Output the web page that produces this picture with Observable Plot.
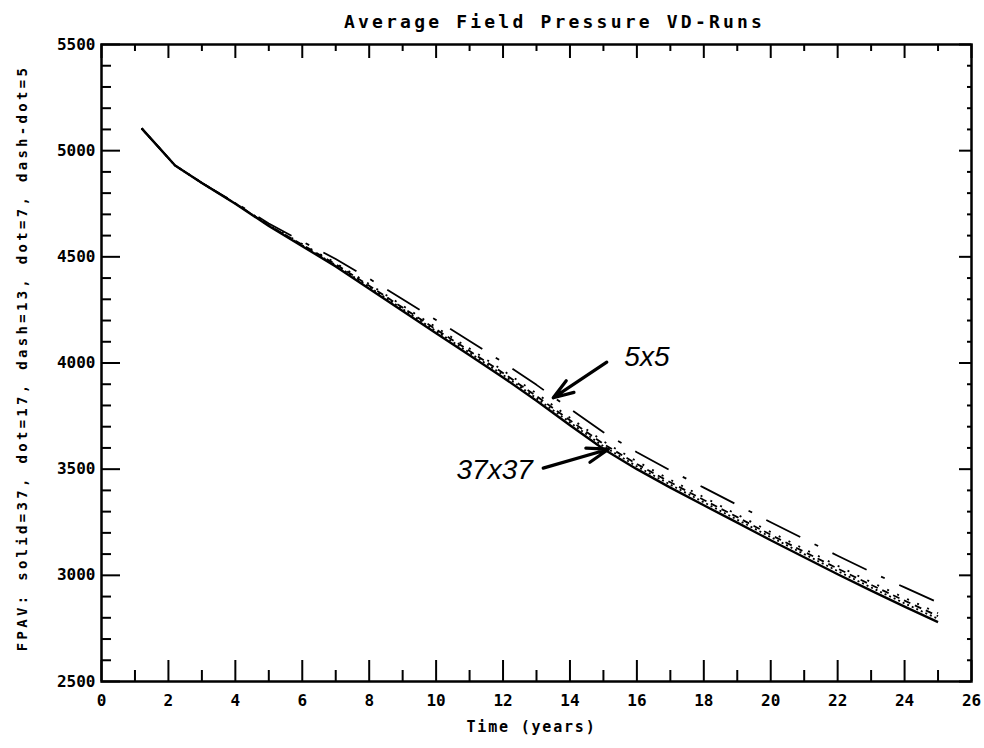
<!DOCTYPE html>
<html>
<head>
<meta charset="utf-8">
<script src="https://cdn.jsdelivr.net/npm/d3@7"></script>
<script src="https://cdn.jsdelivr.net/npm/@observablehq/plot@0.6"></script>
<style>
  body { margin: 0; background: #fff; }
  #chart svg { display: block; }
</style>
</head>
<body>
<div id="chart"></div>
<script>
// Average field pressure (FPAV) for the VD runs, one curve per grid size.
const years = [1.2, 2.2, 3, 4, 5, 6, 7, 8, 9, 10, 11, 12, 13, 14, 15, 16, 17, 18, 19, 20, 21, 22, 23, 24, 25];

const fpav37 = [5105, 4930, 4848, 4750, 4645, 4550, 4455, 4350, 4245, 4140, 4037, 3932, 3822, 3707, 3595, 3500, 3413, 3330, 3248, 3165, 3085, 3005, 2928, 2853, 2780];
const fpav17 = [5105, 4930, 4848, 4751, 4647, 4554, 4461, 4358, 4254, 4150, 4048, 3944, 3834, 3720, 3608, 3513, 3427, 3344, 3262, 3180, 3100, 3020, 2943, 2868, 2795];
const fpav13 = [5105, 4930, 4848, 4751, 4649, 4557, 4465, 4364, 4261, 4158, 4057, 3953, 3844, 3730, 3619, 3524, 3438, 3355, 3274, 3191, 3111, 3032, 2955, 2881, 2808];
const fpav7  = [5105, 4930, 4848, 4752, 4651, 4560, 4471, 4372, 4270, 4168, 4068, 3965, 3857, 3742, 3631, 3537, 3450, 3368, 3286, 3204, 3124, 3045, 2968, 2894, 2822];
const fpav5  = [5105, 4930, 4848, 4755, 4657, 4572, 4490, 4397, 4300, 4202, 4104, 4003, 3897, 3784, 3674, 3580, 3494, 3413, 3332, 3250, 3171, 3092, 3016, 2943, 2872];

const runNames = ["37", "17", "13", "7", "5"];

const xMajor = [0, 2, 4, 6, 8, 10, 12, 14, 16, 18, 20, 22, 24, 26];
const xMinor = [1, 3, 5, 7, 9, 11, 13, 15, 17, 19, 21, 23, 25];
const yMajor = [2500, 3000, 3500, 4000, 4500, 5000, 5500];
const yMinor = [2600, 2700, 2800, 2900, 3100, 3200, 3300, 3400, 3600, 3700, 3800, 3900,
                4100, 4200, 4300, 4400, 4600, 4700, 4800, 4900, 5100, 5200, 5300, 5400];

const titleText = "Average Field Pressure VD-Runs";
const xTitle = "Time (years)";
const yTitle = "FPAV: solid=37, dot=17, dash=13, dot=7, dash-dot=5";

// Hand-written call-outs: label position and arrow (tail -> head) in data units.
const calloutLabels = [
  {text: "5x5",   t: 16.3, p: 4030},
  {text: "37x37", t: 11.75, p: 3497}
];
const calloutArrows = [
  {t1: 15.1, p1: 4004, t2: 13.5, p2: 3836},
  {t1: 13.2, p1: 3505, t2: 15.15, p2: 3594}
];

// Line styling per run
const runStyle = {
  "37": {dash: null,            width: 2.4},
  "17": {dash: "2,3",           width: 1.8},
  "13": {dash: "7,5",           width: 1.8},
  "7":  {dash: "2,9",           width: 1.8},
  "5":  {dash: "38,16,4,16",    width: 1.8}
};

const runValues = {"37": fpav37, "17": fpav17, "13": fpav13, "7": fpav7, "5": fpav5};

const W = 984, H = 748;
const mL = 101, mR = 13, mT = 44, mB = 67;
const innerW = W - mL - mR, innerH = H - mT - mB;

const lineMarks = runNames.map(run => {
  const pts = years.map((t, i) => ({t, p: runValues[run][i]}));
  const s = runStyle[run];
  return Plot.line(pts, {
    x: "t", y: "p", stroke: "#000", strokeWidth: s.width,
    strokeDasharray: s.dash ?? undefined, strokeLinecap: "butt"
  });
});

const font = "DejaVu Sans Mono";

const chart = Plot.plot({
  width: W, height: H,
  marginLeft: mL, marginRight: mR, marginTop: mT, marginBottom: mB,
  style: {fontFamily: font, fontWeight: "bold", fontSize: "16px", color: "#000", background: "#fff", overflow: "visible"},
  x: {domain: [0, 26], label: null},
  y: {domain: [2500, 5500], label: null},
  marks: [
    Plot.axisX(xMajor, {tickSize: 0, tickPadding: 13, fontSize: 16, fontWeight: "bold", label: null, tickFormat: d => String(d)}),
    Plot.axisY(yMajor, {tickSize: 0, tickPadding: 6, fontSize: 16, fontWeight: "bold", label: null, tickFormat: d => String(d)}),
    // inward ticks on all four sides
    Plot.ruleX(xMajor, {insetTop: innerH - 21, strokeWidth: 2}),
    Plot.ruleX(xMinor, {insetTop: innerH - 11, strokeWidth: 2}),
    Plot.ruleX(xMajor, {insetBottom: innerH - 14, strokeWidth: 2}),
    Plot.ruleX(xMinor, {insetBottom: innerH - 7, strokeWidth: 2}),
    Plot.ruleY(yMajor, {insetRight: innerW - 19, strokeWidth: 2}),
    Plot.ruleY(yMinor, {insetRight: innerW - 10, strokeWidth: 2}),
    Plot.ruleY(yMajor, {insetLeft: innerW - 12, strokeWidth: 2}),
    Plot.ruleY(yMinor, {insetLeft: innerW - 4, strokeWidth: 2}),
    Plot.frame({stroke: "#000", strokeWidth: 2.5}),
    ...lineMarks,
    Plot.arrow(calloutArrows, {
      x1: "t1", y1: "p1", x2: "t2", y2: "p2",
      stroke: "#000", strokeWidth: 3.2, headLength: 16, headAngle: 38
    }),
    Plot.text(calloutLabels, {
      x: "t", y: "p", text: "text",
      fontFamily: "Liberation Sans", fontStyle: "italic", fontWeight: "normal",
      fontSize: 28, fill: "#000"
    }),
    Plot.text([titleText], {frameAnchor: "top", dy: -29, dx: 18, fontSize: 18, fontWeight: "bold", fill: "#000"}),
    Plot.text([xTitle], {frameAnchor: "bottom", dy: 50, dx: -5, fontSize: 15, fontWeight: "bold", fill: "#000"}),
    Plot.text([yTitle], {frameAnchor: "left", textAnchor: "middle", dx: -79, dy: -5, rotate: -90, fontSize: 14, fontWeight: "bold", fill: "#000"})
  ]
});

// plotter-style wide lettering
const spacing = new Map([[titleText, "3.2px"], [xTitle, "1.8px"], [yTitle, "3.3px"]]);
d3.select(chart).selectAll("text").each(function() {
  const s = spacing.get(this.textContent);
  if (s) this.setAttribute("letter-spacing", s);
});

document.getElementById("chart").append(chart);
</script>
</body>
</html>
